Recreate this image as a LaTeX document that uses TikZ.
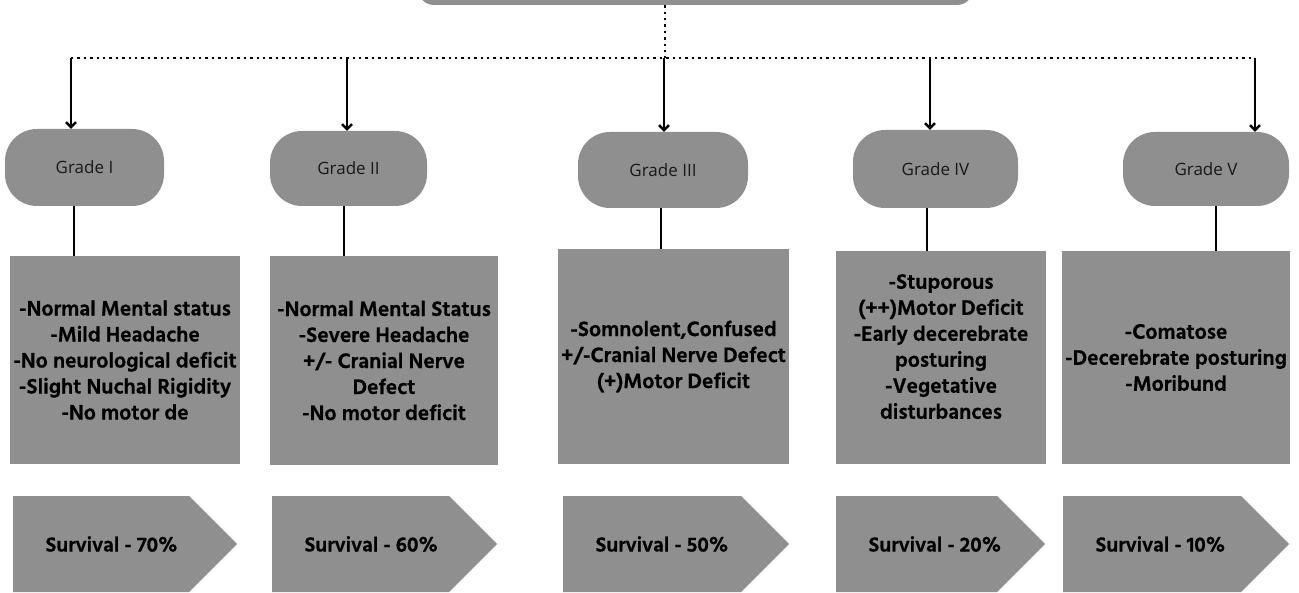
\documentclass[tikz,border=0pt]{standalone}
\usepackage{fontspec}
\setmainfont{Open Sans}
\newfontfamily\hindfont{Hind Siliguri}[BoldFeatures={FakeBold=0.8}]
\usetikzlibrary{arrows.meta}
\usetikzlibrary{positioning}
\definecolor{boxgray}{RGB}{143,143,143}
\tikzstyle{grade} = [fill=boxgray, rounded corners=32pt, text=black!90, font=\fontsize{17}{20}\selectfont]
\tikzstyle{info} = [fill=boxgray, align=center, font=\hindfont\bfseries\fontsize{21.5}{26}\selectfont]
\tikzstyle{arrow} = [line width=2.4pt,-{Straight Barb[length=5pt,width=10pt]}]
\tikzstyle{link} = [line width=2.2pt]
\tikzstyle{dots} = [line width=2.4pt, dash pattern=on 2.4pt off 4pt]

\begin{document}
\begin{tikzpicture}[x=1pt,y=-1pt]
\useasboundingbox (0,0) rectangle (1299,593);

% head box, only its lower edge is on the page
\node[fill=boxgray, rounded corners=16pt, minimum width=555pt, minimum height=60pt] (sah) at (695.5,-25) {};

\node[grade, minimum width=159pt, minimum height=77pt] (g1) at (84.5,167.5) {Grade I};
\node[grade, minimum width=157pt, minimum height=75pt] (g2) at (348.5,168.5) {Grade II};
\node[grade, minimum width=170pt, minimum height=76pt] (g3) at (663,170) {Grade III};
\node[grade, minimum width=165pt, minimum height=78pt] (g4) at (935.5,169) {Grade IV};
\node[grade, minimum width=166pt, minimum height=74pt] (g5) at (1206,169) {Grade V};

\node[info, minimum width=224pt, minimum height=208pt] (d1) at (125,360)
  {-Normal Mental status\\-Mild Headache\\-No neurological deficit\\-Slight Nuchal Rigidity\\-No motor de};
\node[info, minimum width=228pt, minimum height=209pt] (d2) at (384,360.5)
  {-Normal Mental Status\\-Severe Headache\\+/- Cranial Nerve\\Defect\\-No motor deficit};
\node[info, minimum width=231pt, minimum height=215pt] (d3) at (673.5,356.5)
  {-Somnolent,Confused\\+/-Cranial Nerve Defect\\(+)Motor Deficit};
\node[info, minimum width=210pt, minimum height=213pt] (d4) at (941,357.5)
  {-Stuporous\\(++)Motor Deficit\\-Early decerebrate\\posturing\\-Vegetative\\disturbances\\[-4pt]};
\node[info, minimum width=226pt, minimum height=213pt] (d5) at (1176,357.5)
  {-Comatose\\-Decerebrate posturing\\-Moribund};

% survival arrows
\foreach \l/\r/\v [count=\i] in {13/237/70,272/497/60,563/789/50,836/1045/20,1063/1289/10}{
  \fill[boxgray] (\l,496) -- (\r-48,496) -- (\r,544) -- (\r-48,592) -- (\l,592) -- cycle;
  \node[anchor=west, font=\hindfont\bfseries\fontsize{21}{24}\selectfont] (surv\i) at (\l+29,544) {Survival - \v\%};
}

% dotted tree
\coordinate (hub) at (665,58);
\foreach \i/\x in {1/71,2/347,3/664,4/930,5/1255}
  \coordinate (t\i) at (\x,58);
\draw[dots] (665,0 |- sah.south) -- (hub);
\draw[dots] (t1) -- (t5);
\foreach \i in {1,...,5}
  \draw[arrow] (t\i) -- (t\i |- g\i.north);

\foreach \i/\x in {1/74,2/344,3/661,4/927,5/1216}
  \draw[link] (\x,0 |- g\i.south) -- (\x,0 |- d\i.north);
%\draw[link] (g2) -- (d2);
\end{tikzpicture}
\end{document}
